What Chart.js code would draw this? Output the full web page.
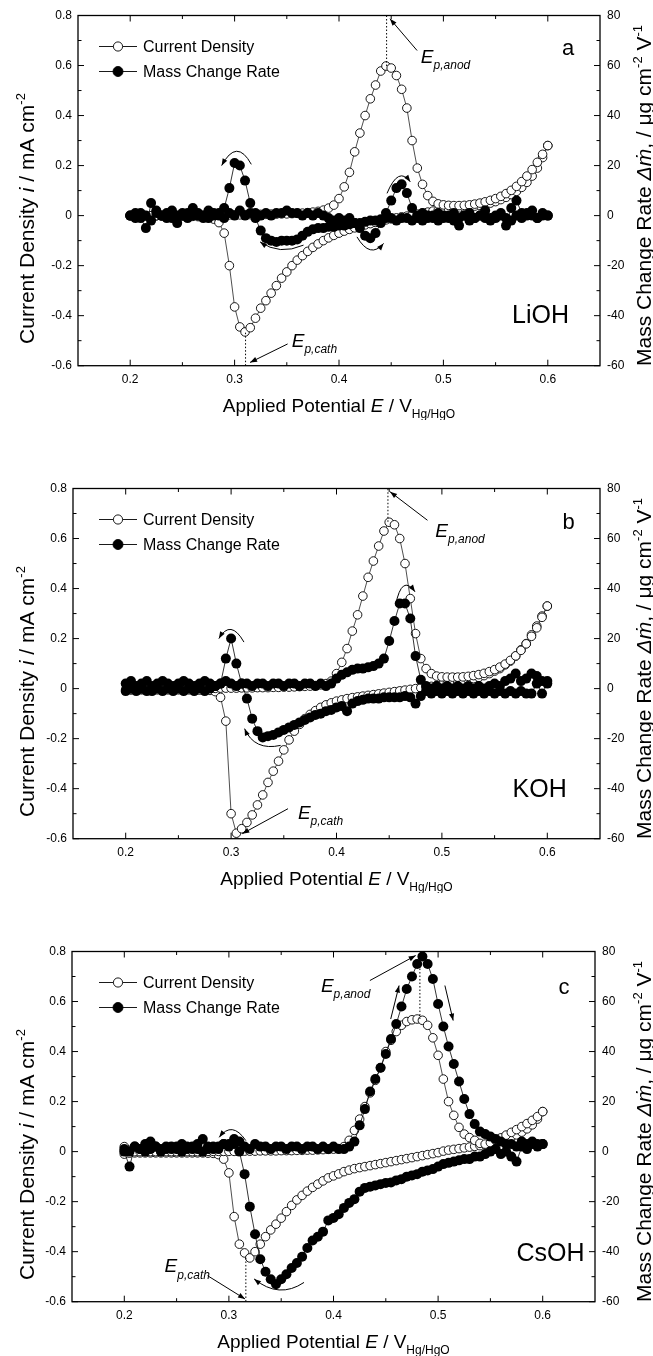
<!DOCTYPE html>
<html lang="en">

<head>
  <meta charset="UTF-8" />
  <title>EQCM voltammograms: LiOH, KOH, CsOH</title>
  <style>
    body { margin: 0; background: #fff; width: 653px; height: 1356px; position: relative; overflow: hidden; }
    .painel { position: absolute; left: 0; width: 653px; height: 420px; }
  </style>
</head>

<body>
  <div class="painel" style="top: 0px"><canvas id="panelA" width="653" height="420"></canvas></div>
  <div class="painel" style="top: 472.8px"><canvas id="panelB" width="653" height="420"></canvas></div>
  <div class="painel" style="top: 935.5px"><canvas id="panelC" width="653" height="420"></canvas></div>
</body>

</html>

<script src="https://cdn.jsdelivr.net/npm/chart.js"></script>

<script>
  // potential grid (V vs Hg/HgO), each sweep listed from 0.2 to 0.6
  const potential = [
    0.200, 0.205, 0.210, 0.215, 0.220, 0.225, 0.230, 0.235, 0.240, 0.245,
    0.250, 0.255, 0.260, 0.265, 0.270, 0.275, 0.280, 0.285, 0.290, 0.295,
    0.300, 0.305, 0.310, 0.315, 0.320, 0.325, 0.330, 0.335, 0.340, 0.345,
    0.350, 0.355, 0.360, 0.365, 0.370, 0.375, 0.380, 0.385, 0.390, 0.395,
    0.400, 0.405, 0.410, 0.415, 0.420, 0.425, 0.430, 0.435, 0.440, 0.445,
    0.450, 0.455, 0.460, 0.465, 0.470, 0.475, 0.480, 0.485, 0.490, 0.495,
    0.500, 0.505, 0.510, 0.515, 0.520, 0.525, 0.530, 0.535, 0.540, 0.545,
    0.550, 0.555, 0.560, 0.565, 0.570, 0.575, 0.580, 0.585, 0.590, 0.595,
    0.600
  ];

  // LiOH (a) - current density mA cm-2, mass change rate ug cm-2 V-1
  const liohCurrentAnodic = [
    0, 0, 0, 0, 0, 0, 0, 0, 0, 0,
    0.001, 0.001, 0.001, 0.001, 0.001, 0.002, 0.002, 0.002, 0.002, 0.003,
    0.003, 0.003, 0.004, 0.004, 0.004, 0.005, 0.005, 0.006, 0.006, 0.007,
    0.007, 0.008, 0.009, 0.010, 0.012, 0.014, 0.017, 0.022, 0.030, 0.042,
    0.068, 0.115, 0.173, 0.255, 0.330, 0.400, 0.467, 0.522, 0.578, 0.598,
    0.590, 0.560, 0.505, 0.430, 0.300, 0.190, 0.125, 0.080, 0.057, 0.047,
    0.043, 0.041, 0.040, 0.040, 0.041, 0.043, 0.046, 0.050, 0.055, 0.061,
    0.068, 0.077, 0.088, 0.101, 0.117, 0.136, 0.158, 0.184, 0.213, 0.245,
    0.280
  ];
  const liohCurrentCathodic = [
    0, 0, -0.001, -0.001, -0.001, -0.001, -0.001, -0.002, -0.002, -0.002,
    -0.002, -0.003, -0.003, -0.004, -0.005, -0.008, -0.014, -0.028, -0.070, -0.200,
    -0.365, -0.445, -0.465, -0.448, -0.410, -0.370, -0.340, -0.310, -0.280, -0.250,
    -0.225, -0.200, -0.178, -0.160, -0.143, -0.127, -0.113, -0.100, -0.089, -0.079,
    -0.070, -0.062, -0.055, -0.049, -0.043, -0.037, -0.032, -0.027, -0.022, -0.017,
    -0.013, -0.009, -0.005, -0.002, 0.002, 0.006, 0.010, 0.014, 0.018, 0.021,
    0.024, 0.027, 0.029, 0.031, 0.033, 0.035, 0.038, 0.041, 0.045, 0.050,
    0.056, 0.064, 0.073, 0.084, 0.097, 0.113, 0.133, 0.158, 0.190, 0.232,
    0.280
  ];
  const liohMassAnodic = [
    0, 1, -1, -5, 5, 1, 0, -1, 2, -3,
    0, 1, 3, 0, -1, 2, 1, 0, -1, 1,
    0, 2, 0, 1, 1, 0, 1, 0, 1, 1,
    2, 1, 1, 0, 1, 0, 1, 0, -1, -2,
    -1, -2, -1, -3, -5, -8, -9, -7, -3, 1,
    6, 11, 12.5, 9, 3, 0, 1, -1, 0, 1,
    0, -1, 1, -4, 0, 1, -1, 0, 2, -1,
    0, 1, -4, 3, 6, 1, 0, 2, -1, 1,
    0
  ];
  const liohMassCathodic = [
    0, -1, 1, 0, -2, 2, 0, 1, -1, 0,
    1, -1, 0, 1, 0, -1, 0, 1, 3, 11,
    21, 20, 14, 5, -1, -6, -9, -10, -10.5, -10,
    -10, -10, -9.5, -8, -6.5, -5.5, -5, -5, -4.5, -4.5,
    -4, -4, -3.5, -3, -3, -2.5, -2, -2, -1.5, -1,
    -1, -2, -1, -1, -2, -1, -2, 0, -1, -2,
    -1, 0, -2, -1, 0, -2, -1, 0, -1, -2,
    -1, 0, -1, -2, 0, -1, 1, 0, -1, 0,
    0
  ];

  // KOH (b)
  const kohCurrentAnodic = [
    -0.005, -0.004, -0.003, -0.002, -0.001, 0, 0, 0, 0, 0,
    0, 0, 0, 0, 0.001, 0.001, 0.001, 0.001, 0.002, 0.002,
    0.002, 0.002, 0.003, 0.003, 0.003, 0.004, 0.004, 0.004, 0.005, 0.005,
    0.006, 0.006, 0.007, 0.008, 0.009, 0.010, 0.012, 0.015, 0.020, 0.030,
    0.060, 0.105, 0.160, 0.230, 0.295, 0.370, 0.445, 0.510, 0.570, 0.630,
    0.665, 0.655, 0.600, 0.500, 0.360, 0.220, 0.120, 0.080, 0.060, 0.050,
    0.047, 0.046, 0.046, 0.046, 0.047, 0.049, 0.052, 0.056, 0.061, 0.068,
    0.076, 0.086, 0.098, 0.113, 0.131, 0.153, 0.179, 0.209, 0.243, 0.285,
    0.330
  ];
  const kohCurrentCathodic = [
    -0.005, -0.005, -0.005, -0.005, -0.005, -0.005, -0.005, -0.005, -0.005, -0.005,
    -0.005, -0.005, -0.005, -0.005, -0.006, -0.006, -0.007, -0.012, -0.035, -0.130,
    -0.500, -0.578, -0.560, -0.535, -0.505, -0.465, -0.425, -0.375, -0.330, -0.290,
    -0.245, -0.205, -0.170, -0.143, -0.120, -0.103, -0.088, -0.075, -0.065, -0.057,
    -0.050, -0.045, -0.040, -0.036, -0.033, -0.030, -0.027, -0.024, -0.021, -0.018,
    -0.015, -0.012, -0.009, -0.006, -0.003, 0, 0.003, 0.006, 0.009, 0.012,
    0.015, 0.018, 0.022, 0.026, 0.030, 0.035, 0.040, 0.045, 0.052, 0.060,
    0.070, 0.080, 0.095, 0.110, 0.130, 0.155, 0.180, 0.215, 0.250, 0.290,
    0.330
  ];
  const kohMassAnodic = [
    2, 3, 1, 2, 3, 1, 2, 3, 2, 1,
    2, 3, 2, 1, 2, 3, 2, 1, 2, 3,
    2, 1, 2, 2, 1, 2, 2, 1, 2, 2,
    1, 2, 2, 1, 2, 2, 1, 2, 1, 2,
    4, 5.5, 6.5, 7.5, 8, 8, 8.5, 9, 10, 12,
    19, 27, 34, 34, 28, 13, 3.5, 1, 0, 1,
    0, 1, 0, 1, 0, 1, 0, 1, 0, 1,
    2, 1, 3, 4, 6, 3, 4, 6, 5, 3,
    3
  ];
  const kohMassCathodic = [
    -1, 0, -1, 0, -1, -1, 0, -1, 0, -1,
    0, -1, 0, -1, 0, -1, 0, 1, 2, 12,
    20, 10, 2, -4, -12, -17, -19.5, -19, -18.5, -17.5,
    -16.5, -15.5, -14.5, -13.5, -12.5, -11.5, -10.5, -10, -9, -8.5,
    -7.5, -7, -9, -6, -5, -4.5, -4, -4, -4, -3.5,
    -3.5, -3.5, -3.5, -3, -3.5, -6, -3, -1, -2, -1,
    -2, -1, -2, -1, -2, -1, -2, -1, -2, -1,
    -2, -1, -2, -1, -2, -1, -2, -2, 2, -2,
    2
  ];

  // CsOH (c)
  const csohCurrentAnodic = [
    0.020, 0.005, 0, 0, 0, 0, 0, 0, 0, 0,
    0, 0, 0, 0, 0, 0, 0.001, 0.001, 0.001, 0.001,
    0.001, 0.001, 0.002, 0.002, 0.002, 0.002, 0.003, 0.003, 0.003, 0.003,
    0.004, 0.004, 0.004, 0.005, 0.005, 0.006, 0.006, 0.007, 0.008, 0.009,
    0.010, 0.012, 0.020, 0.045, 0.085, 0.130, 0.180, 0.235, 0.285, 0.335,
    0.400, 0.445, 0.480, 0.505, 0.520, 0.527, 0.530, 0.525, 0.505, 0.455,
    0.385, 0.290, 0.200, 0.145, 0.097, 0.070, 0.056, 0.045, 0.033, 0.030,
    0.036, 0.045, 0.055, 0.066, 0.077, 0.088, 0.100, 0.112, 0.125, 0.140,
    0.160
  ];
  const csohCurrentCathodic = [
    -0.010, -0.006, -0.005, -0.005, -0.005, -0.005, -0.005, -0.005, -0.005, -0.005,
    -0.005, -0.005, -0.005, -0.005, -0.005, -0.005, -0.006, -0.007, -0.012, -0.030,
    -0.085, -0.260, -0.370, -0.405, -0.425, -0.400, -0.370, -0.340, -0.313, -0.290,
    -0.266, -0.240, -0.215, -0.193, -0.175, -0.158, -0.143, -0.130, -0.117, -0.105,
    -0.097, -0.089, -0.080, -0.074, -0.068, -0.064, -0.060, -0.056, -0.052, -0.048,
    -0.044, -0.040, -0.036, -0.032, -0.028, -0.024, -0.020, -0.016, -0.012, -0.008,
    -0.004, 0.002, 0.006, 0.009, 0.012, 0.015, 0.018, 0.021, 0.024, 0.028,
    0.032, 0.037, 0.043, 0.050, 0.058, 0.067, 0.078, 0.091, 0.107, 0.130,
    0.160
  ];
  const csohMassAnodic = [
    0, -6, 2, 1, 3, 4, 2, 1, 2, 1,
    2, 3, 2, 1, 3, 5, 2, 1, 2, 3,
    2, 3, 4, 2, 1, 3, 2, 2, 1, 2,
    2, 1, 2, 2, 1, 2, 2, 1, 2, 1,
    2, 1, 1, 2, 4, 10.5, 17, 24, 29, 33.5,
    39, 45, 51, 58, 65, 70, 75, 78, 75, 69,
    59, 50, 42, 35, 28, 21, 15, 11, 8, 7,
    6, 5, 4, 3, 3, 2, 4, 3, 4, 3,
    3
  ];
  const csohMassCathodic = [
    1, 0, 2, 1, 0, 1, 2, 0, 1, 2,
    1, 0, 1, 2, 1, 0, 1, 2, 1, 3,
    3, 5, 0, -9, -22, -33, -43, -48, -51, -53,
    -51, -49, -46.5, -44.5, -42, -38.5, -35.5, -34, -32, -27.5,
    -26.5, -25, -22.5, -20.5, -19, -16, -14.5, -14, -13.5, -13,
    -12.5, -12.3, -11.5, -11, -10, -9.5, -9, -8, -7.5, -7,
    -6, -5, -4.5, -4, -3.5, -3, -3, -2, -2, -1,
    0, 1, -1, 0, -2, -4, 2, 1, 3, 2,
    3
  ];

  // ticks
  const xTickValues = [0.2, 0.3, 0.4, 0.5, 0.6];
  const currentTickValues = [-0.6, -0.4, -0.2, 0, 0.2, 0.4, 0.6, 0.8];
  const massTickValues = [-60, -40, -20, 0, 20, 40, 60, 80];

  const FONT = '"Liberation Sans", Arial, "DejaVu Sans", sans-serif';

  function sweep(values) {
    return potential.map((e, k) => ({ x: e, y: values[k] }));
  }

  // texto com italico / sub / sup
  function setFont(ctx, mode, size) {
    const small = mode === 'sup' || mode === 'sub' || mode === 'isub';
    const s = small ? Math.round(size * 0.63) : size;
    const it = mode === 'i' || mode === 'isub';
    ctx.font = (it ? 'italic ' : '') + s + 'px ' + FONT;
  }

  function drawRich(ctx, parts, x, y, size, align) {
    let total = 0;
    const widths = parts.map(([t, mode]) => {
      setFont(ctx, mode, size);
      const w = ctx.measureText(t).width;
      total += w;
      return w;
    });
    let cx = align === 'center' ? x - total / 2 : x;
    ctx.textAlign = 'left';
    ctx.textBaseline = 'alphabetic';
    parts.forEach(([t, mode], k) => {
      setFont(ctx, mode, size);
      let dy = 0;
      if (mode === 'sup') dy = -0.42 * size;
      if (mode === 'sub' || mode === 'isub') dy = 0.32 * size;
      ctx.fillText(t, cx, y + dy);
      cx += widths[k];
    });
  }

  function arrowHead(ctx, x, y, ang) {
    const len = 7, half = 2.6;
    ctx.beginPath();
    ctx.moveTo(x, y);
    ctx.lineTo(x - len * Math.cos(ang) + half * Math.sin(ang), y - len * Math.sin(ang) - half * Math.cos(ang));
    ctx.lineTo(x - len * Math.cos(ang) - half * Math.sin(ang), y - len * Math.sin(ang) + half * Math.cos(ang));
    ctx.closePath();
    ctx.fill();
  }

  function makeDecor(p) {
    return {
      id: 'decor_' + p.id,
      afterDraw(chart) {
        const ctx = chart.ctx;
        const a = chart.chartArea;
        const xs = chart.scales.x, ys = chart.scales.y, ms = chart.scales.yMass;
        const X = v => xs.getPixelForValue(v);
        const Y = v => ys.getPixelForValue(v);
        const n = p.notes;
        ctx.save();
        ctx.fillStyle = '#000';
        ctx.strokeStyle = '#000';

        // linhas pontilhadas dos picos
        ctx.lineWidth = 1;
        ctx.setLineDash([1.5, 2]);
        [n.anodDot, n.cathDot].forEach(d => {
          if (!d) return;
          ctx.beginPath();
          ctx.moveTo(X(d[0]), Y(d[1]));
          ctx.lineTo(X(d[0]), Y(d[2]));
          ctx.stroke();
        });
        ctx.setLineDash([]);

        // setas retas
        [n.anodArrow, n.cathArrow, ...n.straight].forEach(s => {
          const x0 = X(s[0][0]), y0 = Y(s[0][1]), x1 = X(s[1][0]), y1 = Y(s[1][1]);
          ctx.beginPath();
          ctx.moveTo(x0, y0);
          ctx.lineTo(x1, y1);
          ctx.stroke();
          arrowHead(ctx, x1, y1, Math.atan2(y1 - y0, x1 - x0));
        });

        // setas curvas
        n.curves.forEach(c => {
          const x0 = X(c[0][0]), y0 = Y(c[0][1]);
          const xc = X(c[1][0]), yc = Y(c[1][1]);
          const x1 = X(c[2][0]), y1 = Y(c[2][1]);
          ctx.beginPath();
          ctx.moveTo(x0, y0);
          ctx.quadraticCurveTo(xc, yc, x1, y1);
          ctx.stroke();
          arrowHead(ctx, x1, y1, Math.atan2(y1 - yc, x1 - xc));
        });

        // rotulos E_p
        drawRich(ctx, [['E', 'i'], ['p,anod', 'isub']], X(n.anodLabel[0]), Y(n.anodLabel[1]), 19, 'left');
        drawRich(ctx, [['E', 'i'], ['p,cath', 'isub']], X(n.cathLabel[0]), Y(n.cathLabel[1]), 19, 'left');

        ctx.font = '22px ' + FONT;
        ctx.textAlign = 'left';
        ctx.fillText(p.letter, X(n.letterAt[0]), Y(n.letterAt[1]));
        ctx.font = '25px ' + FONT;
        ctx.fillText(p.salt, X(n.saltAt[0]), Y(n.saltAt[1]));

        // moldura
        ctx.lineWidth = 1.3;
        ctx.strokeRect(a.left, a.top, a.right - a.left, a.bottom - a.top);

        // ticks para dentro
        ctx.lineWidth = 1;
        const tick = (x0, y0, x1, y1) => { ctx.beginPath(); ctx.moveTo(x0, y0); ctx.lineTo(x1, y1); ctx.stroke(); };
        const xv = xs.ticks.map(t => t.value);
        xv.forEach((v, k) => {
          const px = X(v);
          tick(px, a.bottom, px, a.bottom - 6);
          tick(px, a.top, px, a.top + 6);
          if (k < xv.length - 1) {
            const mx = X((v + xv[k + 1]) / 2);
            tick(mx, a.bottom, mx, a.bottom - 3.5);
            tick(mx, a.top, mx, a.top + 3.5);
          }
        });
        const yv = ys.ticks.map(t => t.value);
        yv.forEach((v, k) => {
          const py = Y(v);
          tick(a.left, py, a.left + 6, py);
          if (k < yv.length - 1) {
            const my = Y((v + yv[k + 1]) / 2);
            tick(a.left, my, a.left + 3.5, my);
          }
        });
        const mv = ms.ticks.map(t => t.value);
        mv.forEach((v, k) => {
          const py = ms.getPixelForValue(v);
          tick(a.right, py, a.right - 6, py);
          if (k < mv.length - 1) {
            const my = ms.getPixelForValue((v + mv[k + 1]) / 2);
            tick(a.right, my, a.right - 3.5, my);
          }
        });

        // legenda
        const rows = [
          { y: a.top + 31, label: chart.data.datasets[0].label, filled: false },
          { y: a.top + 56, label: chart.data.datasets[2].label, filled: true }
        ];
        rows.forEach(r => {
          ctx.lineWidth = 0.9;
          tick(99, r.y, 137, r.y);
          ctx.beginPath();
          ctx.arc(118, r.y, r.filled ? 5 : 4.6, 0, Math.PI * 2);
          ctx.fillStyle = r.filled ? '#000' : '#fff';
          ctx.fill();
          ctx.stroke();
          ctx.fillStyle = '#000';
          ctx.font = '16px ' + FONT;
          ctx.textBaseline = 'middle';
          ctx.fillText(r.label, 143, r.y + 1);
          ctx.textBaseline = 'alphabetic';
        });

        // titulos dos eixos
        drawRich(ctx, [['Applied Potential ', 'n'], ['E', 'i'], [' / V', 'n'], ['Hg/HgO', 'sub']],
          (a.left + a.right) / 2, a.bottom + 46, 19, 'center');

        ctx.save();
        ctx.translate(34, a.top + 203);
        ctx.rotate(-Math.PI / 2);
        drawRich(ctx, [['Current Density ', 'n'], ['i', 'i'], [' / mA cm', 'n'], ['-2', 'sup']], 0, 0, 21, 'center');
        ctx.restore();

        ctx.save();
        ctx.translate(651, a.top + 180);
        ctx.rotate(-Math.PI / 2);
        drawRich(ctx, [['Mass Change Rate ', 'n'], ['\u0394\u1E41', 'i'], [', / \u03BCg cm', 'n'], ['-2', 'sup'], [' V', 'n'], ['-1', 'sup']], 0, 0, 21, 'center');
        ctx.restore();

        ctx.restore();
      }
    };
  }

  const panelSetup = [
    {
      id: 'panelA', left: 78, right: 53, letter: 'a', salt: 'LiOH',
      series: [liohCurrentAnodic, liohCurrentCathodic, liohMassAnodic, liohMassCathodic],
      notes: {
        anodDot: [0.4456, 0.598, 0.8], anodArrow: [[0.4748, 0.66], [0.4488, 0.787]], anodLabel: [0.4784, 0.609],
        cathDot: [0.3105, -0.468, -0.6], cathArrow: [[0.3508, -0.513], [0.3148, -0.587]], cathLabel: [0.3547, -0.525],
        letterAt: [0.6136, 0.642], saltAt: [0.5657, -0.43],
        curves: [
          [[0.316, 0.205], [0.302, 0.312], [0.2876, 0.2]],
          [[0.366, -0.118], [0.343, -0.16], [0.3244, -0.105]],
          [[0.4172, -0.085], [0.43, -0.175], [0.4427, -0.111]],
          [[0.446, 0.089], [0.457, 0.2], [0.4683, 0.135]]
        ],
        straight: []
      }
    },
    {
      id: 'panelB', left: 73, right: 53, letter: 'b', salt: 'KOH',
      series: [kohCurrentAnodic, kohCurrentCathodic, kohMassAnodic, kohMassCathodic],
      notes: {
        anodDot: [0.4488, 0.667, 0.8], anodArrow: [[0.4863, 0.673], [0.4508, 0.787]], anodLabel: [0.4938, 0.606],
        cathDot: null, cathArrow: [[0.354, -0.48], [0.3106, -0.58]], cathLabel: [0.3634, -0.52],
        letterAt: [0.6144, 0.64], saltAt: [0.567, -0.434],
        curves: [
          [[0.3122, 0.186], [0.2995, 0.28], [0.2884, 0.2]],
          [[0.347, -0.227], [0.322, -0.25], [0.3128, -0.16]],
          [[0.456, 0.333], [0.462, 0.46], [0.4745, 0.387]]
        ],
        straight: []
      }
    },
    {
      id: 'panelC', left: 72, right: 58, letter: 'c', salt: 'CsOH',
      series: [csohCurrentAnodic, csohCurrentCathodic, csohMassAnodic, csohMassCathodic],
      notes: {
        anodDot: [0.4826, 0.53, 0.76], anodArrow: [[0.4348, 0.684], [0.4786, 0.784]], anodLabel: [0.388, 0.637],
        cathDot: [0.3162, -0.425, -0.6], cathArrow: [[0.2796, -0.496], [0.3154, -0.589]], cathLabel: [0.2385, -0.483],
        letterAt: [0.615, 0.631], saltAt: [0.575, -0.436],
        curves: [
          [[0.3162, 0.044], [0.303, 0.125], [0.2907, 0.057]],
          [[0.3718, -0.523], [0.348, -0.59], [0.3241, -0.509]]
        ],
        straight: [
          [[0.4547, 0.53], [0.4627, 0.664]],
          [[0.5065, 0.664], [0.5144, 0.524]]
        ]
      }
    }
  ];

  const tickFont = { family: FONT, size: 12 };

  panelSetup.forEach(p => {
    const currentStyle = {
      label: 'Current Density', yAxisID: 'y', showLine: true, borderColor: '#222', borderWidth: 0.8,
      pointRadius: 4.3, pointBackgroundColor: '#fff', pointBorderColor: '#000', pointBorderWidth: 0.9, order: 1
    };
    const massStyle = {
      label: 'Mass Change Rate', yAxisID: 'yMass', showLine: true, borderColor: '#000', borderWidth: 0.8,
      pointRadius: 5, pointBackgroundColor: '#000', pointBorderColor: '#000', pointBorderWidth: 0, order: 0
    };

    new Chart(document.getElementById(p.id), {
      type: 'scatter',
      data: {
        datasets: [
          { ...currentStyle, data: sweep(p.series[0]) },
          { ...currentStyle, data: sweep(p.series[1]) },
          { ...massStyle, data: sweep(p.series[2]) },
          { ...massStyle, data: sweep(p.series[3]) }
        ]
      },
      options: {
        responsive: false,
        animation: false,
        devicePixelRatio: 1,
        layout: { padding: { top: 15.5, left: 0, right: 0, bottom: 0 } },
        plugins: { legend: { display: false }, tooltip: { enabled: false } },
        scales: {
          x: {
            type: 'linear', min: 0.15, max: 0.65,
            afterBuildTicks: s => { s.ticks = xTickValues.map(v => ({ value: v })); },
            afterFit: s => { s.height = 54.3; },
            grid: { display: false, drawTicks: false },
            border: { display: false },
            ticks: { color: '#000', font: tickFont, padding: 7, maxRotation: 0, autoSkip: false, callback: v => String(v) }
          },
          y: {
            position: 'left', min: -0.6, max: 0.8,
            afterBuildTicks: s => { s.ticks = currentTickValues.map(v => ({ value: v })); },
            afterFit: s => { s.width = p.left; },
            grid: { display: false, drawTicks: false },
            border: { display: false },
            ticks: { color: '#000', font: tickFont, padding: 6, autoSkip: false, callback: v => String(v) }
          },
          yMass: {
            position: 'right', min: -60, max: 80,
            afterBuildTicks: s => { s.ticks = massTickValues.map(v => ({ value: v })); },
            afterFit: s => { s.width = p.right; },
            grid: { display: false, drawTicks: false },
            border: { display: false },
            ticks: { color: '#000', font: tickFont, padding: 7, autoSkip: false, callback: v => String(v) }
          }
        }
      },
      plugins: [makeDecor(p)]
    });
  });
</script>
